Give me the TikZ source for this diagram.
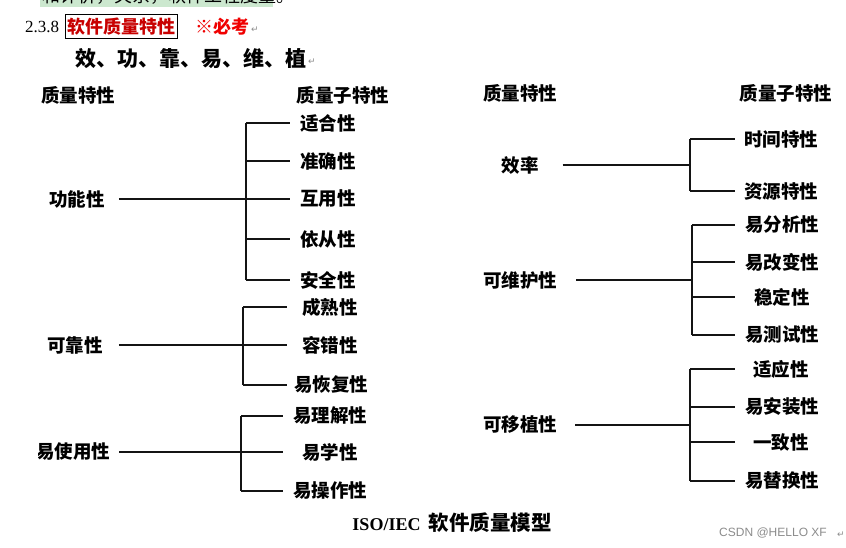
\documentclass[tikz,border=0pt]{standalone}
\usepackage{fontspec}
\setmainfont{Liberation Serif}
\newfontfamily\cjk{Noto Sans CJK SC}
\newfontfamily\dvs{DejaVu Sans}
\newfontfamily\lsans{Liberation Sans}
\definecolor{titlered}{HTML}{C80000}
\definecolor{brightred}{HTML}{F00000}
\definecolor{hlgreen}{HTML}{CCE8CF}
\definecolor{retgray}{HTML}{8C8C8C}
\begin{document}
\begin{tikzpicture}[x=1pt,y=-1pt,
  lbl/.style={font=\cjk\bfseries\fontsize{18.5}{20}\selectfont, inner sep=0pt, anchor=center},
  mainlbl/.style={lbl, inner xsep=0pt},
  ln/.style={line width=1.5pt, color=black!92},
  ret/.style={font=\dvs\fontsize{9}{9}\selectfont, text=retgray, inner sep=0pt}
]
\fill[white] (0,0) rectangle (846,548);
\useasboundingbox (0,0) rectangle (846,548);

% ---- clipped top line ----
\begin{scope}
\clip (0,0) rectangle (846,8);
\fill[hlgreen] (40,-2) rectangle (273,7);
\node[font=\cjk\fontsize{18}{18}\selectfont, inner sep=0pt, anchor=base west] (topline) at (42,3) {和评价，关系，软件工程度量。};
\end{scope}

% ---- heading ----
\node[font=\fontsize{17}{17}\selectfont, inner sep=0pt, anchor=center] (secnum) at (42,27) {2.3.8};
\node[draw=black, line width=1pt, font=\cjk\bfseries\fontsize{18}{18}\selectfont, text=titlered,
      inner xsep=2pt, inner ysep=3pt, minimum height=23pt, anchor=center] (sectitle) at (121.5,26.5) {软件质量特性};
\node[font=\cjk\bfseries\fontsize{18}{18}\selectfont, text=brightred, inner sep=0pt, anchor=center] (must) at (222,27) {※必考};
\node[ret] (ret1) at (255,30) {↵};
\node[font=\cjk\bfseries\fontsize{21}{21}\selectfont, inner sep=0pt, anchor=center] (mnemo) at (191,59) {效、功、靠、易、维、植};
\node[ret] (ret2) at (312,62) {↵};

% ================= LEFT DIAGRAM =================
\node[lbl] (hL1) at (78,95) {质量特性};
\node[lbl] (hL2) at (343,95) {质量子特性};

% 功能性
\node[mainlbl] (f) at (77,199) {功能性};
\coordinate (fbar) at (246,0);
\coordinate (fend) at (290,0);
\node[lbl] (f1) at (328,123) {适合性};
\node[lbl] (f2) at (328,161) {准确性};
\node[lbl] (f3) at (328,199) {互用性};
\node[lbl] (f4) at (328,239) {依从性};
\node[lbl] (f5) at (328,280) {安全性};
\draw[ln] ([xshift=14pt]f.east) -- (fend |- f3);
\draw[ln] (fbar |- f1) -- (fbar |- f5);
\foreach \s in {f1,f2,f4,f5} \draw[ln] (fbar |- \s) -- (fend |- \s);

% 可靠性
\node[mainlbl] (r) at (75,345) {可靠性};
\coordinate (rbar) at (243,0);
\coordinate (rend) at (287,0);
\node[lbl] (r1) at (330,307) {成熟性};
\node[lbl] (r2) at (330,345) {容错性};
\node[lbl] (r3) at (331,385) {易恢复性};
\draw[ln] ([xshift=16pt]r.east) -- (rend |- r2);
\draw[ln] (rbar |- r1) -- (rbar |- r3);
\foreach \s in {r1,r3} \draw[ln] (rbar |- \s) -- (rend |- \s);

% 易使用性 (left edge cut)
\begin{scope}
\clip (38,420) rectangle (130,480);
\node[mainlbl] (u) at (73,452) {易使用性};
\end{scope}
\coordinate (ubar) at (241,0);
\coordinate (uend) at (283,0);
\node[lbl] (u1) at (330,416) {易理解性};
\node[lbl] (u2) at (330,452) {易学性};
\node[lbl] (u3) at (330,491) {易操作性};
\draw[ln] ([xshift=9pt]u.east) -- (uend |- u2);
\draw[ln] (ubar |- u1) -- (ubar |- u3);
\foreach \s in {u1,u3} \draw[ln] (ubar |- \s) -- (uend |- \s);

% ================= RIGHT DIAGRAM =================
\node[lbl] (hR1) at (520,93) {质量特性};
\node[lbl] (hR2) at (786,93) {质量子特性};

% 效率
\node[mainlbl] (e) at (520,165) {效率};
\coordinate (ebar) at (690,0);
\coordinate (eend) at (735,0);
\node[lbl] (e1) at (781,139) {时间特性};
\node[lbl] (e2) at (781,191) {资源特性};
\draw[ln] ([xshift=24pt]e.east) -- (ebar |- e.east);
\draw[ln] (ebar |- e1) -- (ebar |- e2);
\foreach \s in {e1,e2} \draw[ln] (ebar |- \s) -- (eend |- \s);

% 可维护性
\node[mainlbl] (m) at (520,280) {可维护性};
\coordinate (mbar) at (692,0);
\coordinate (mend) at (735,0);
\node[lbl] (m1) at (782,225) {易分析性};
\node[lbl] (m2) at (782,262) {易改变性};
\node[lbl] (m3) at (782,297) {稳定性};
\node[lbl] (m4) at (782,335) {易测试性};
\draw[ln] ([xshift=19pt]m.east) -- (mbar |- m.east);
\draw[ln] (mbar |- m1) -- (mbar |- m4);
\foreach \s in {m1,m2,m3,m4} \draw[ln] (mbar |- \s) -- (mend |- \s);

% 可移植性
\node[mainlbl] (p) at (520,425) {可移植性};
\coordinate (pbar) at (690,0);
\coordinate (pend) at (735,0);
\node[lbl] (p1) at (781,369) {适应性};
\node[lbl] (p2) at (782,407) {易安装性};
\node[lbl] (p3) at (781,442) {一致性};
\node[lbl] (p4) at (782,481) {易替换性};
\draw[ln] ([xshift=18pt]p.east) -- (pbar |- p.east);
\draw[ln] (pbar |- p1) -- (pbar |- p4);
\foreach \s in {p1,p2,p3,p4} \draw[ln] (pbar |- \s) -- (pend |- \s);

% ---- caption and footer ----
\node[inner sep=0pt, anchor=center] (caption) at (452,523)
  {{\bfseries\fontsize{18}{18}\selectfont ISO/IEC}\hspace{8pt}{\cjk\bfseries\fontsize{20.5}{20.5}\selectfont 软件质量模型}};
\node[font=\lsans\fontsize{12}{12}\selectfont, text=retgray, inner sep=0pt, anchor=center] (csdn) at (773,533) {CSDN @HELLO XF};
\node[ret] (ret3) at (841,535) {↵};
\end{tikzpicture}
\end{document}
